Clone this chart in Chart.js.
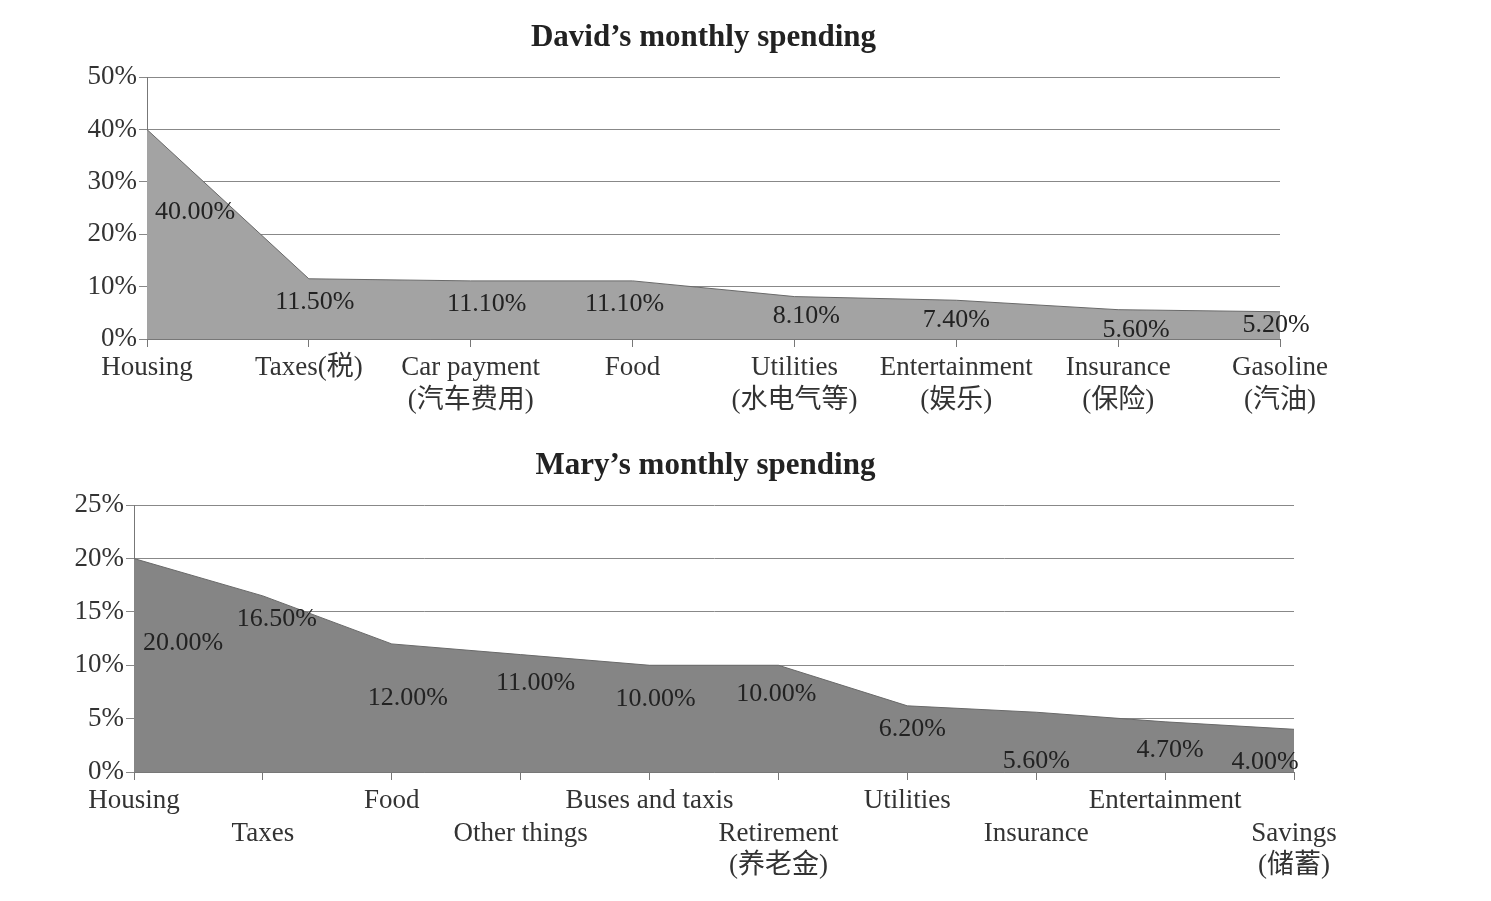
<!DOCTYPE html>
<html>
<head>
<meta charset="utf-8">
<script src="https://cdn.jsdelivr.net/npm/chart.js@4"></script>
<style>
  body { margin: 0; background: #fff; }
  .box { position: absolute; left: 0; width: 1491px; }
</style>
</head>
<body>
<div class="box" style="top:0;height:430px"><canvas id="david"></canvas></div>
<div class="box" style="top:440px;height:461px"><canvas id="mary"></canvas></div>
<script>
const davidLabels = [['Housing'], ['Taxes(税)'], ['Car payment', '(汽车费用)'], ['Food'], ['Utilities', '(水电气等)'], ['Entertainment', '(娱乐)'], ['Insurance', '(保险)'], ['Gasoline', '(汽油)']];
const davidValues = [40, 11.5, 11.1, 11.1, 8.1, 7.4, 5.6, 5.2];
const davidTicks = [0, 10, 20, 30, 40, 50];

const maryLabels = [['Housing'], ['', 'Taxes'], ['Food'], ['', 'Other things'], ['Buses and taxis'], ['', 'Retirement', '(养老金)'], ['Utilities'], ['', 'Insurance'], ['Entertainment'], ['', 'Savings', '(储蓄)']];
const maryValues = [20, 16.5, 12, 11, 10, 10, 6.2, 5.6, 4.7, 4.0];
const maryTicks = [0, 5, 10, 15, 20, 25];

const FONT = '"Liberation Serif", "DejaVu Serif", "Noto Sans CJK SC", serif';

// where each value label sits relative to its point [dx, dy]
const davidLabelPos = [[48, 83], [6, 23], [16, 23], [-8, 23], [12, 20], [0, 20], [18, 20], [-4, 13]];
const maryLabelPos = [[49, 85], [14, 23], [16, 54], [15, 29], [6, 34], [-2, 29], [5, 23], [0, 49], [5, 28], [-29, 33]];

const valueLabels = {
  id: 'valueLabels',
  afterDatasetsDraw(chart, args, opts) {
    const ctx = chart.ctx;
    const meta = chart.getDatasetMeta(0);
    ctx.save();
    ctx.font = '26px ' + FONT;
    ctx.fillStyle = '#222';
    ctx.textAlign = 'center';
    ctx.textBaseline = 'middle';
    meta.data.forEach((pt, i) => {
      const v = chart.data.datasets[0].data[i];
      const p = opts.pos[i];
      ctx.fillText(v.toFixed(2) + '%', pt.x + p[0], pt.y + p[1]);
    });
    ctx.restore();
  }
};

function makeChart(id, title, labels, values, ticks, pos, fill, yWidth, xHeight, rightPad, rightAxis, titlePad) {
  const max = ticks[ticks.length - 1];
  return new Chart(document.getElementById(id), {
    type: 'line',
    data: {
      labels: labels,
      datasets: [{
        data: values,
        fill: true,
        backgroundColor: fill,
        borderColor: '#6a6a6a',
        borderWidth: 1,
        pointRadius: 0,
        tension: 0
      }]
    },
    plugins: [valueLabels],
    options: {
      responsive: true,
      maintainAspectRatio: false,
      animation: false,
      layout: { padding: { left: 0, right: rightPad, top: 0, bottom: 0 } },
      plugins: {
        legend: { display: false },
        tooltip: { enabled: false },
        title: {
          display: true,
          text: title,
          color: '#222',
          font: { family: FONT, size: 31, weight: 'bold' },
          padding: titlePad
        },
        valueLabels: { pos: pos }
      },
      scales: {
        x: {
          offset: false,
          grid: { display: true, drawOnChartArea: false, color: '#777', tickLength: 8 },
          border: { color: '#777' },
          ticks: { color: '#333', font: { family: FONT, size: 27 }, maxRotation: 0, autoSkip: false, padding: 5 },
          afterFit(s) { s.height = xHeight; }
        },
        y: {
          min: 0, max: max,
          grid: { color: '#888', tickLength: 8 },
          border: { color: '#777' },
          ticks: { stepSize: ticks[1] - ticks[0], color: '#333', font: { family: FONT, size: 27 }, padding: 2,
                   callback: v => v + '%' },
          afterFit(s) { s.width = yWidth; }
        },
        spacer: {
          position: 'right',
          display: true,
          grid: { display: false },
          border: { display: false },
          ticks: { display: false },
          afterFit(s) { s.width = rightAxis; }
        }
      }
    }
  });
}

makeChart('david', 'David’s monthly spending', davidLabels, davidValues, davidTicks, davidLabelPos,
  '#a3a3a3', 147, 91, 84, 127, { top: 19, bottom: 21 });
makeChart('mary', 'Mary’s monthly spending', maryLabels, maryValues, maryTicks, maryLabelPos,
  '#858585', 134, 129, 80, 117, { top: 7, bottom: 21 });
</script>
</body>
</html>
